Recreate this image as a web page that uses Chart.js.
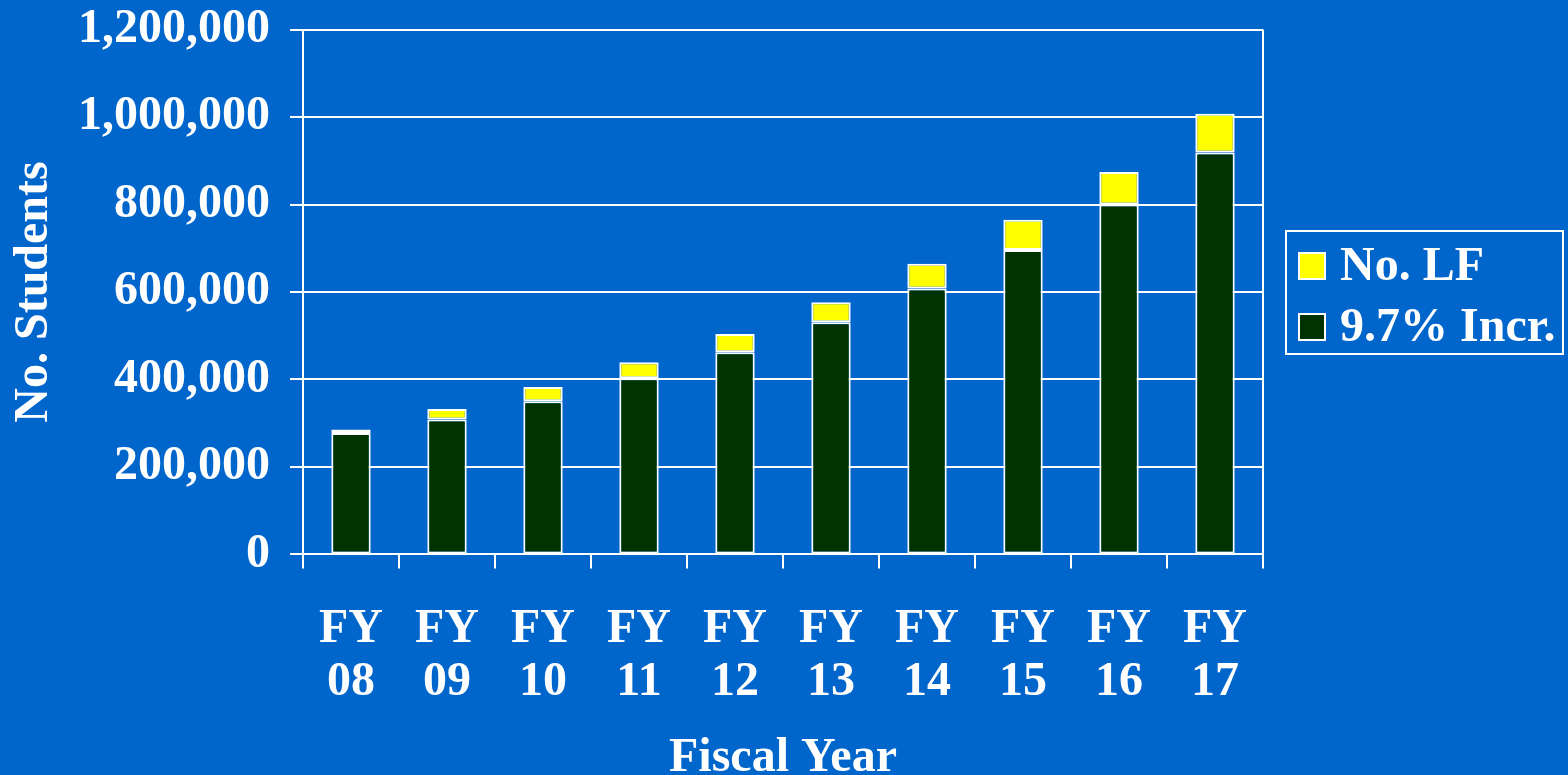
<!DOCTYPE html>
<html>
<head>
<meta charset="utf-8">
<script src="https://cdn.jsdelivr.net/npm/chart.js@4"></script>
<style>
  html, body { margin: 0; padding: 0; background: #0066CC; }
  #wrap { width: 1568px; height: 775px; }
</style>
</head>
<body>
<div id="wrap"><canvas id="grafico"></canvas></div>
<script>
// dados
const anos = [['FY', '08'], ['FY', '09'], ['FY', '10'], ['FY', '11'], ['FY', '12'],
              ['FY', '13'], ['FY', '14'], ['FY', '15'], ['FY', '16'], ['FY', '17']];
const incremento = [277600, 308200, 350000, 403000, 462000, 531000, 608000, 696000, 800000, 919000];
const numLF = [7800, 24200, 32600, 36500, 42000, 45700, 56600, 69000, 74300, 88700];
const ticksY = [0, 200000, 400000, 600000, 800000, 1000000, 1200000];

const familia = '"Liberation Serif", "Times New Roman", serif';
const fonte = { family: familia, size: 48, weight: 'bold', lineHeight: 1.1 };
const fonteY = { family: familia, size: 48, weight: 'bold', lineHeight: 0.4 };
const fonteTitulo = { family: familia, size: 48, weight: 'bold', lineHeight: 1.0 };

Chart.defaults.color = '#FFFFFF';

// linha da direita do gráfico e legenda com borda
const extras = {
    id: 'extras',
    afterDraw(chart) {
        const ctx = chart.ctx;
        const area = chart.chartArea;
        ctx.save();
        ctx.strokeStyle = '#FFFFFF';
        ctx.lineWidth = 2;
        ctx.beginPath();
        ctx.moveTo(area.right, area.top);
        ctx.lineTo(area.right, area.bottom);
        ctx.stroke();

        // legenda (ordem invertida: No. LF em cima)
        const meio = (area.top + area.bottom) / 2;
        const esq = area.right + 23;
        ctx.strokeRect(esq, meio - 61, 1563 - esq, 123);
        const itens = chart.data.datasets.slice().reverse();
        ctx.font = 'bold 48px ' + familia;
        ctx.textBaseline = 'middle';
        ctx.textAlign = 'left';
        itens.forEach(function (ds, i) {
            const cy = meio - 26 + i * 61;
            ctx.fillStyle = ds.backgroundColor;
            ctx.fillRect(esq + 13, cy - 13, 26, 26);
            ctx.strokeStyle = '#FFFFFF';
            ctx.strokeRect(esq + 13, cy - 13, 26, 26);
            ctx.fillStyle = '#FFFFFF';
            ctx.fillText(ds.label, esq + 54, cy + 2);
        });
        ctx.restore();
    }
};

const config = {
    type: 'bar',
    data: {
        labels: anos,
        datasets: [{
            label: '9.7% Incr.',
            data: incremento,
            backgroundColor: '#003300',
            borderColor: '#FFFFFF',
            borderWidth: 2,
            borderSkipped: false
        },
        {
            label: 'No. LF',
            data: numLF,
            backgroundColor: '#FFFF00',
            borderColor: '#FFFFFF',
            borderWidth: 2,
            borderSkipped: false
        }]
    },
    options: {
        responsive: true,
        maintainAspectRatio: false,
        animation: false,
        barPercentage: 0.41,
        categoryPercentage: 1,
        layout: { padding: { top: 0, right: 305, left: 11, bottom: 0 } },
        scales: {
            x: {
                stacked: true,
                grid: { offset: true, drawOnChartArea: false, color: '#FFFFFF', lineWidth: 2, tickLength: 14 },
                border: { color: '#FFFFFF', width: 2 },
                ticks: { font: fonte, color: '#FFFFFF', padding: 35, maxRotation: 0 },
                title: { display: true, text: 'Fiscal Year', font: fonteTitulo, color: '#FFFFFF', padding: { top: -9, bottom: -8 } }
            },
            y: {
                stacked: true,
                min: 0,
                max: 1200000,
                afterBuildTicks(axis) { axis.ticks = ticksY.map(v => ({ value: v })); },
                grid: { color: '#FFFFFF', lineWidth: 2, tickLength: 13 },
                border: { color: '#FFFFFF', width: 2 },
                ticks: {
                    font: fonteY,
                    color: '#FFFFFF',
                    padding: 20,
                    callback: v => v.toLocaleString('en-US')
                },
                title: { display: true, text: 'No. Students', font: fonteTitulo, color: '#FFFFFF', padding: { top: 0, bottom: -1 } }
            }
        },
        plugins: {
            legend: { display: false },
            tooltip: { enabled: false }
        }
    },
    plugins: [extras]
};

const grafico = new Chart(document.getElementById('grafico'), config);
</script>
</body>
</html>
